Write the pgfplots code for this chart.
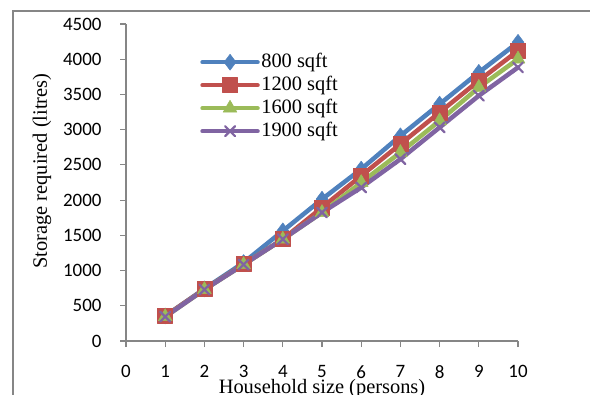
\documentclass[border=0pt]{standalone}
\usepackage{pgfplots}
\pgfplotsset{compat=1.18}
\usepackage{fontspec}
\setmainfont{Liberation Serif}
\newfontfamily\carlito{Carlito}
\definecolor{cblue}{HTML}{4F81BD}
\definecolor{cred}{HTML}{C0504D}
\definecolor{cgreen}{HTML}{9BBB59}
\definecolor{cpurple}{HTML}{8064A2}
\definecolor{axgray}{HTML}{868686}
\begin{document}
\begin{tikzpicture}[x=1bp,y=1bp]
\useasboundingbox (0,0) rectangle (590,394);
\clip (0,0) rectangle (590,394);
\draw[axgray, line width=1.2bp] (13,-20) -- (13,383) -- (620,383);
\begin{axis}[
  at={(126bp,53bp)}, anchor=south west,
  scale only axis, width=392bp, height=317bp,
  xmin=0, xmax=10, ymin=0, ymax=4500,
  xtick={0,1,...,10}, ytick={0,500,...,4500},
  axis lines=left, axis line style={axgray, line width=1.2bp, -},
  tick style={axgray, line width=1.2bp},
  tick align=outside, major tick length=6bp,
  ticklabel style={font=\carlito\fontsize{19}{19}\selectfont},
  xticklabel style={yshift=-15bp},
  yticklabel style={xshift=-15bp},
  /pgf/number format/assume math mode=true,
  /pgf/number format/set thousands separator={},
  xlabel={Household size (persons)},
  ylabel={Storage required (litres)},
  label style={font=\fontsize{20.5}{22}\selectfont},
  xlabel style={at={(axis description cs:0.5,-0.166)}, anchor=base},
  ylabel style={at={(axis description cs:-0.214,0.536)}, anchor=center, rotate=0},
  clip=false,
  legend cell align=left,
  legend style={at={(axis description cs:0.189,0.9164)}, anchor=north west,
    draw=none, fill=none, inner sep=0pt,
    font=\fontsize{20.5}{23}\selectfont,
    nodes={text height=15bp, text depth=5bp, inner ysep=1.5bp, inner xsep=1.5bp}},
  legend image code/.code={\draw[mark repeat=2,mark phase=2,#1] plot coordinates {(0bp,0bp) (27.5bp,0bp) (55bp,0bp)};},
  every axis plot/.append style={line width=4.5bp, line cap=round, line join=round},
]
\addplot[cblue, mark=diamond*, mark size=8bp, mark options={solid, line width=0.5bp}] coordinates {
(1,355) (2,740) (3,1113) (4,1563) (5,2013) (6,2440) (7,2913) (8,3363) (9,3813) (10,4240)};
\addlegendentry{800 sqft}
\addplot[cred, mark=square*, mark size=7.5bp, mark options={solid, line width=0.5bp}] coordinates {
(1,355) (2,735) (3,1090) (4,1445) (5,1895) (6,2345) (7,2795) (8,3245) (9,3695) (10,4121)};
\addlegendentry{1200 sqft}
\addplot[cgreen, mark=triangle*, mark size=8bp, mark options={solid, line width=0.5bp}] coordinates {
(1,345) (2,730) (3,1085) (4,1445) (5,1824) (6,2250) (7,2676) (8,3126) (9,3600) (10,4003)};
\addlegendentry{1600 sqft}
\addplot[cpurple, mark=x, mark size=7bp, mark options={solid, line width=2.2bp}] coordinates {
(1,345) (2,730) (3,1085) (4,1445) (5,1824) (6,2179) (7,2582) (8,3032) (9,3482) (10,3884)};
\addlegendentry{1900 sqft}
\end{axis}
\end{tikzpicture}
\end{document}
